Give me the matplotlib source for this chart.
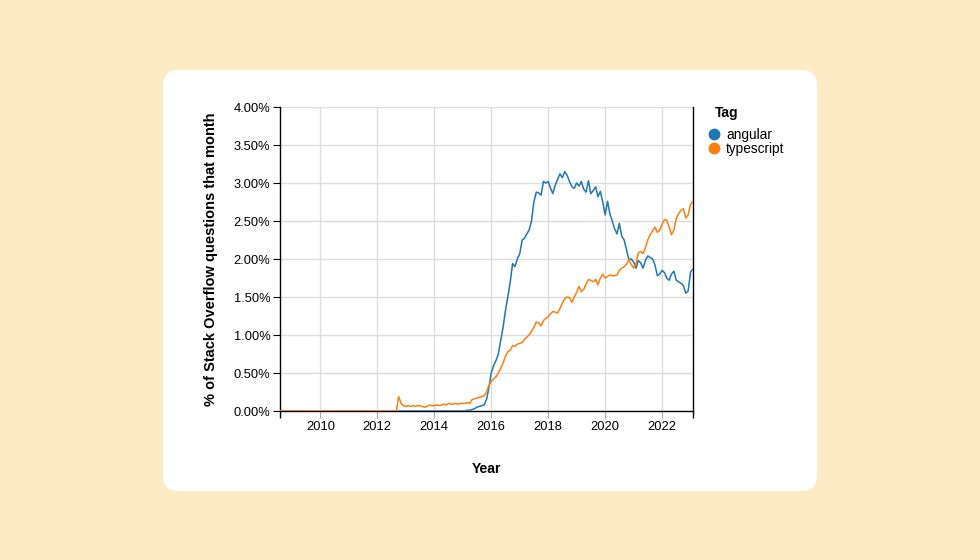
import matplotlib
matplotlib.use("Agg")
import matplotlib.pyplot as plt
from matplotlib.patches import FancyBboxPatch
from matplotlib.lines import Line2D
import pandas as pd

# ---------------- data ----------------
start_month = "2008-08-01"
n_months = 175
tags = ["angular", "typescript"]
colors = ["#1f77b4", "#ff7f0e"]

angular_leading_zeros = 78
angular_values = [
    0.0, 0.01, 0.01, 0.02, 0.03, 0.05, 0.06, 0.07, 0.08, 0.15,
    0.30, 0.50, 0.60, 0.66, 0.75, 0.92, 1.10, 1.32, 1.50, 1.70,
    1.94, 1.90, 2.00, 2.07, 2.25, 2.27, 2.33, 2.38, 2.50, 2.75,
    2.88, 2.87, 2.84, 3.02, 3.00, 3.02, 2.93, 2.86, 2.97, 3.05,
    3.12, 3.07, 3.15, 3.10, 3.02, 2.95, 2.93, 3.00, 2.96, 3.02,
    2.92, 2.88, 3.03, 2.86, 2.90, 2.95, 2.82, 2.89, 2.75, 2.58,
    2.76, 2.60, 2.50, 2.40, 2.33, 2.47, 2.30, 2.25, 2.12, 1.99,
    2.00, 1.96, 1.88, 1.98, 1.95, 1.88, 1.98, 2.04, 2.02, 2.00,
    1.92, 1.78, 1.80, 1.85, 1.82, 1.75, 1.72, 1.80, 1.84, 1.72,
    1.70, 1.68, 1.65, 1.55, 1.58, 1.83, 1.87,
]

typescript_leading_zeros = 49
typescript_values = [
    0.0, 0.19, 0.10, 0.07,
    0.06, 0.07, 0.06, 0.07, 0.06, 0.07, 0.07, 0.06, 0.05, 0.06,
    0.08, 0.07, 0.07, 0.08, 0.07, 0.08, 0.09, 0.08, 0.10, 0.09,
    0.09, 0.10, 0.09, 0.10, 0.10, 0.10, 0.11, 0.10,
    0.15, 0.16, 0.17, 0.18, 0.19, 0.20, 0.25, 0.33, 0.39, 0.42,
    0.45, 0.50, 0.56, 0.63, 0.72, 0.78, 0.80, 0.86, 0.85, 0.88,
    0.89, 0.90, 0.94, 0.97, 1.00, 1.05, 1.10, 1.17, 1.16, 1.12,
    1.19, 1.22, 1.24, 1.28, 1.31, 1.30, 1.29, 1.35, 1.42, 1.48,
    1.50, 1.49, 1.43, 1.50, 1.56, 1.64, 1.57, 1.60, 1.67, 1.73,
    1.72, 1.70, 1.73, 1.66, 1.75, 1.80, 1.75, 1.77, 1.79, 1.78,
    1.78, 1.79, 1.85, 1.88, 1.90, 1.93, 1.99, 1.93, 1.88, 1.94,
    2.08, 2.10, 2.07, 2.15, 2.25, 2.32, 2.37, 2.42, 2.35, 2.38,
    2.46, 2.52, 2.51, 2.42, 2.32, 2.38, 2.53, 2.60, 2.64, 2.66,
    2.54, 2.58, 2.72, 2.76,
]

year_ticks = [2010, 2012, 2014, 2016, 2018, 2020, 2022]
y_ticks = [0.0, 0.5, 1.0, 1.5, 2.0, 2.5, 3.0, 3.5, 4.0]

dates = pd.date_range(start_month, periods=n_months, freq="MS")
angular = [0.0] * angular_leading_zeros + angular_values
typescript = [0.0] * typescript_leading_zeros + typescript_values
series = [angular, typescript]

# ---------------- figure ----------------
plt.rcParams["font.family"] = ["Liberation Sans", "DejaVu Sans"]
BG = "#FCEBC5"
fig = plt.figure(figsize=(9.8, 5.6), dpi=100, facecolor=BG)

card = FancyBboxPatch((163, 560 - 491), 817 - 163, 491 - 70,
                      boxstyle="round,pad=0,rounding_size=16",
                      transform=None, facecolor="white", edgecolor="none",
                      zorder=-10)
fig.patches.append(card)

ax = fig.add_axes([280 / 980, 1 - 411 / 560, (693 - 280) / 980, (411 - 107) / 560])
ax.set_zorder(5)
ax.set_facecolor("none")

for vals, col, tag in zip(series, colors, tags):
    ax.plot(dates, vals, color=col, linewidth=1.1, label=tag, zorder=3)

ax.set_xlim(dates[0], dates[-1])
ax.set_ylim(0, 4)
ax.set_yticks(y_ticks)
ax.set_yticklabels([f"{v:.2f}%" for v in y_ticks])
ax.set_xticks([pd.Timestamp(f"{y}-01-01") for y in year_ticks])
ax.set_xticklabels([str(y) for y in year_ticks])
ax.set_xticks([dates[0], dates[-1]], minor=True)

ax.grid(True, which="major", color="#dddddd", linewidth=1.0, zorder=0)
ax.set_axisbelow(True)

for s in ["left", "right", "bottom"]:
    ax.spines[s].set_color("black")
    ax.spines[s].set_linewidth(1.0)
ax.spines["top"].set_visible(False)

ax.tick_params(axis="y", which="major", length=5, width=0.8, color="black",
               labelsize=9.3, pad=2, labelcolor="black")
ax.tick_params(axis="x", which="major", length=5, width=0.8, color="#aaaaaa",
               labelsize=9.3, pad=2, labelcolor="black")
ax.tick_params(axis="x", which="minor", length=5, width=1.0, color="black")

ax.set_xlabel("Year", fontsize=10, fontweight="bold", labelpad=21)
ax.set_ylabel("% of Stack Overflow questions that month", fontsize=10.5,
              fontweight="bold", labelpad=11)

fig.text(715 / 980, 1 - 113 / 560, "Tag", fontsize=10, fontweight="bold",
         ha="left", va="center")
handles = [Line2D([], [], marker="o", linestyle="none", markersize=7.5,
                  markerfacecolor=c, markeredgecolor=c) for c in colors]
leg = ax.legend(handles, tags, loc="upper left",
                bbox_to_anchor=(707.5 / 980, 1 - 128 / 560),
                bbox_transform=fig.transFigure, frameon=False,
                fontsize=9.8, labelspacing=0.0, handletextpad=0.35,
                handlelength=1.0, borderpad=0, borderaxespad=0)

fig.savefig("out.png", dpi=100, facecolor=BG)
